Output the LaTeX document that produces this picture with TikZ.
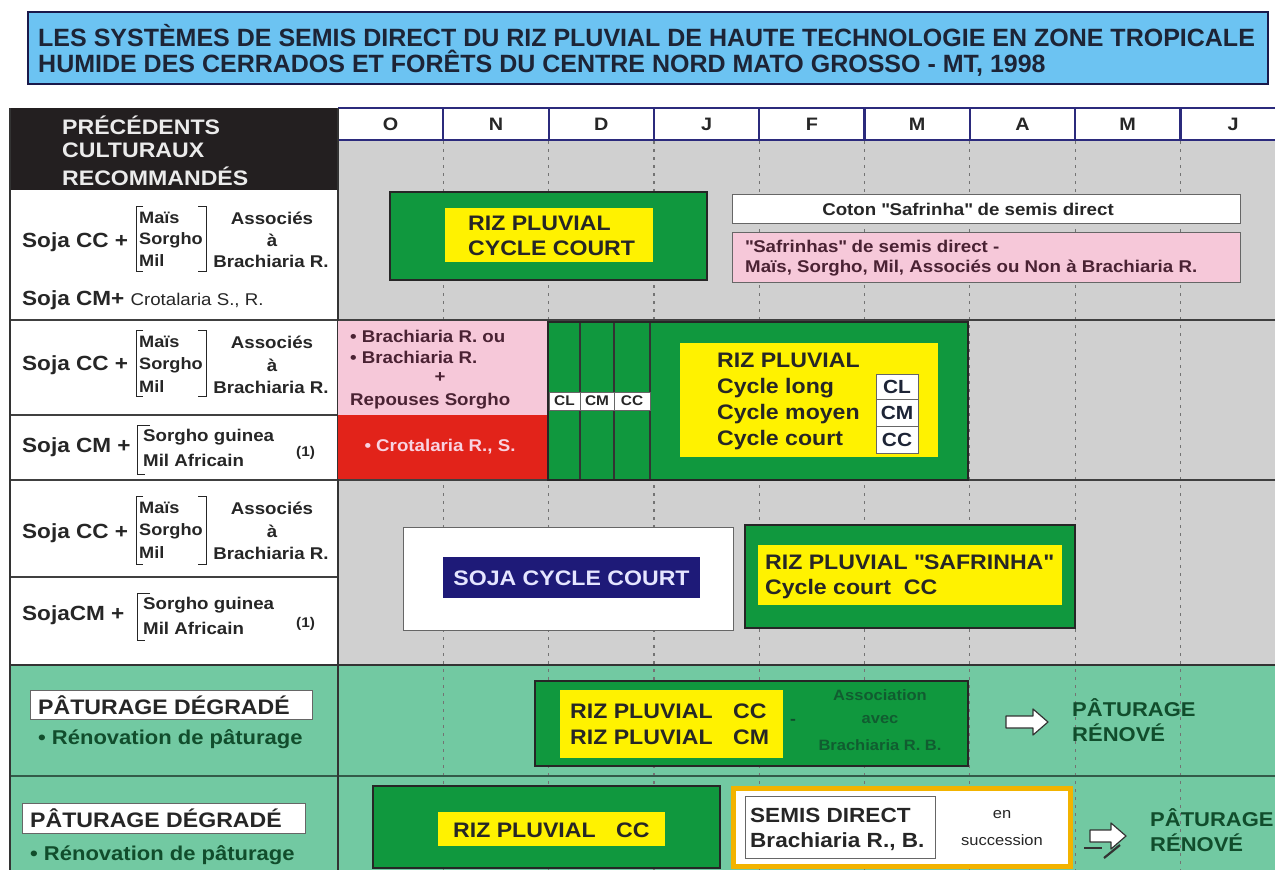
\documentclass[tikz,border=0pt]{standalone}
\usepackage{fontspec}
\setmainfont{Liberation Sans}[FakeStretch=1.1]
\newfontfamily\titlefam{Liberation Sans}
\definecolor{titleblue}{HTML}{6CC3F2}
\definecolor{gridgrey}{HTML}{D0D0D0}
\definecolor{rizgreen}{HTML}{10983E}
\definecolor{rizyellow}{HTML}{FFF200}
\definecolor{softpink}{HTML}{F6C8D9}
\definecolor{hotred}{HTML}{E2231A}
\definecolor{navybox}{HTML}{1E1A78}
\definecolor{mint}{HTML}{72C9A2}
\definecolor{headnavy}{HTML}{2B2A7C}
\definecolor{goldline}{HTML}{F2B300}
\definecolor{darkgreen}{HTML}{114D2C}
\definecolor{ink}{HTML}{262626}
\definecolor{titleink}{HTML}{1D2436}
\definecolor{headblack}{HTML}{231F20}
\definecolor{pinkink}{HTML}{4A2233}
\newcommand\fs[1]{\fontsize{#1}{#1}\selectfont}
\newcommand\blockarrow[3]{%
  \draw[black!80, fill=white, line width=1.2pt, line join=round]
    (#1,#3-6) -- (#2-15,#3-6) -- (#2-15,#3-13) -- (#2,#3) -- (#2-15,#3+13)
    -- (#2-15,#3+6) -- (#1,#3+6) -- cycle;}
\begin{document}
\begin{tikzpicture}[x=1pt,y=-1pt,
  lbl/.style={inner sep=0pt, anchor=west, text=ink, font=\bfseries\fs{18}},
  lblc/.style={lbl, anchor=center},
  thickbox/.style={draw=black!85, line width=2.2pt},
  thinbox/.style={draw=black!60, line width=0.9pt},
  rowline/.style={draw=black!75, line width=1.2pt},
  dotline/.style={draw=black!55, line width=1.2pt, dash pattern=on 3pt off 5pt},
  brk/.style={draw=ink, line width=1pt}
]
\useasboundingbox (0,0) rectangle (1275,870);
\fill[white] (0,0) rectangle (1275,870);

% ---------- title ----------
\draw[fill=titleblue, draw=headnavy!60!black, line width=1.2pt] (28,12) rectangle (1268,84);
\node[lbl, text=titleink, font=\titlefam\bfseries\fs{25}] (title1) at (38,36) {LES SYSTÈMES DE SEMIS DIRECT DU RIZ PLUVIAL DE HAUTE TECHNOLOGIE EN ZONE TROPICALE};
\node[lbl, text=titleink, font=\titlefam\bfseries\fs{25}] (title2) at (38,63) {HUMIDE DES CERRADOS ET FORÊTS DU CENTRE NORD MATO GROSSO - MT, 1998};

% ---------- backgrounds ----------
\fill[gridgrey] (338,140) rectangle (1275,665);
\fill[white] (10,190) rectangle (338,665);
\fill[mint] (10,665) rectangle (1275,870);
\fill[headblack] (10,108) rectangle (338,190);
\fill[white] (338,108) rectangle (1275,140);

% header text
\node[lbl, text=white!92!black, font=\bfseries\fs{21}] (h1) at (62,125) {PRÉCÉDENTS};
\node[lbl, text=white!92!black, font=\bfseries\fs{21}] (h2) at (62,150) {CULTURAUX};
\node[lbl, text=white!92!black, font=\bfseries\fs{21}] (h3) at (62,176) {RECOMMANDÉS};

% months
\foreach \m [count=\i from 0] in {O,N,D,J,F,M,A,M,J}
  \node[lblc, font=\bfseries\fs{18}] (month\i) at ({390.6+105.3*\i},124) {\m};
\draw[headnavy, line width=2.6pt] (338,108) -- (1275,108);
\draw[headnavy, line width=2.2pt] (338,140) -- (1275,140);
\foreach \i in {1,...,8}
  \draw[headnavy, line width=2.2pt] ({338+105.3*\i},108) -- ({338+105.3*\i},140);

% dotted month lines
\foreach \i in {1,...,8}
  \draw[dotline] ({338+105.3*\i},141) -- ({338+105.3*\i},870);

% row lines
\draw[rowline] (10,320) -- (1275,320);
\draw[rowline] (10,480) -- (1275,480);
\draw[rowline] (10,415) -- (338,415);
\draw[rowline] (10,577) -- (338,577);
\draw[draw=black!80, line width=1.6pt] (10,665) -- (1275,665);
\draw[draw=black!55!mint, line width=1.4pt] (10,776) -- (1275,776);
\draw[draw=black!80, line width=1.4pt] (338,108) -- (338,870);
\draw[draw=black!80, line width=1.4pt] (10,108) -- (10,870);

% ---------- left column ----------
% section 1
\node[lbl, font=\bfseries\fs{20.5}] (s1a) at (22,242) {Soja CC +};
\draw[brk] (143,206) -- (136,206) -- (136,271) -- (143,271);
\draw[brk] (198,206) -- (206,206) -- (206,271) -- (198,271);
\node[lbl, font=\bfseries\fs{16.5}] (s1m1) at (139,218) {Maïs};
\node[lbl, font=\bfseries\fs{16.5}] (s1m2) at (139,240) {Sorgho};
\node[lbl, font=\bfseries\fs{16.5}] (s1m3) at (139,261) {Mil};
\node[lblc, font=\bfseries\fs{17}] (s1a1) at (272,218) {Associés};
\node[lblc, font=\bfseries\fs{17}] (s1a2) at (272,240) {à};
\node[lblc, font=\bfseries\fs{17}] (s1a3) at (271,261) {Brachiaria R.};
\node[lbl, font=\bfseries\fs{20.5}] (s1b) at (22,300) {Soja CM+ {\mdseries\fs{17}Crotalaria S., R.}};

% section 2
\node[lbl, font=\bfseries\fs{20.5}] (s2a) at (22,365) {Soja CC +};
\draw[brk] (143,330) -- (136,330) -- (136,396) -- (143,396);
\draw[brk] (198,330) -- (206,330) -- (206,396) -- (198,396);
\node[lbl, font=\bfseries\fs{16.5}] (s2m1) at (139,342) {Maïs};
\node[lbl, font=\bfseries\fs{16.5}] (s2m2) at (139,365) {Sorgho};
\node[lbl, font=\bfseries\fs{16.5}] (s2m3) at (139,387) {Mil};
\node[lblc, font=\bfseries\fs{17}] (s2a1) at (272,342) {Associés};
\node[lblc, font=\bfseries\fs{17}] (s2a2) at (272,365) {à};
\node[lblc, font=\bfseries\fs{17}] (s2a3) at (271,387) {Brachiaria R.};
\node[lbl, font=\bfseries\fs{20.5}] (s2b) at (22,447) {Soja CM +};
\draw[brk] (150,425) -- (137,425) -- (137,474) -- (145,474);
\node[lbl, font=\bfseries\fs{17}] (s2g1) at (143,437) {Sorgho guinea};
\node[lbl, font=\bfseries\fs{17}] (s2g2) at (143,460) {Mil Africain};
\node[lbl, font=\bfseries\fs{14}] (s2n) at (296,453) {(1)};

% section 3
\node[lbl, font=\bfseries\fs{20.5}] (s3a) at (22,533) {Soja CC +};
\draw[brk] (143,496) -- (136,496) -- (136,564) -- (143,564);
\draw[brk] (198,496) -- (206,496) -- (206,564) -- (198,564);
\node[lbl, font=\bfseries\fs{16.5}] (s3m1) at (139,508) {Maïs};
\node[lbl, font=\bfseries\fs{16.5}] (s3m2) at (139,531) {Sorgho};
\node[lbl, font=\bfseries\fs{16.5}] (s3m3) at (139,553) {Mil};
\node[lblc, font=\bfseries\fs{17}] (s3a1) at (272,508) {Associés};
\node[lblc, font=\bfseries\fs{17}] (s3a2) at (272,531) {à};
\node[lblc, font=\bfseries\fs{17}] (s3a3) at (271,553) {Brachiaria R.};
\node[lbl, font=\bfseries\fs{20.5}] (s3b) at (22,615) {SojaCM +};
\draw[brk] (150,593) -- (137,593) -- (137,640) -- (145,640);
\node[lbl, font=\bfseries\fs{17}] (s3g1) at (143,605) {Sorgho guinea};
\node[lbl, font=\bfseries\fs{17}] (s3g2) at (143,628) {Mil Africain};
\node[lbl, font=\bfseries\fs{14}] (s3n) at (296,624) {(1)};

% ---------- section 1 timeline ----------
\draw[thickbox, fill=rizgreen] (390,192) rectangle (707,280);
\fill[rizyellow] (445,208) rectangle (653,262);
\node[lbl, font=\bfseries\fs{21}] (r1a) at (468,223) {RIZ PLUVIAL};
\node[lbl, font=\bfseries\fs{21}] (r1b) at (468,248) {CYCLE COURT};
\draw[thinbox, fill=white] (732,194) rectangle (1240,223);
\node[lblc, font=\bfseries\fs{17}] (coton) at (968,209) {Coton \textquotedbl Safrinha\textquotedbl{} de semis direct};
\draw[thinbox, fill=softpink] (732,232) rectangle (1240,282);
\node[lbl, text=pinkink, font=\bfseries\fs{17}] (saf1) at (745,246) {\textquotedbl Safrinhas\textquotedbl{} de semis direct -};
\node[lbl, text=pinkink, font=\bfseries\fs{17}] (saf2) at (745,268) {Maïs, Sorgho, Mil, Associés ou Non à Brachiaria R.};

% ---------- section 2 timeline ----------
\fill[softpink] (338,321) rectangle (548,415);
\fill[hotred] (338,415) rectangle (548,479);
\node[lbl, text=pinkink, font=\bfseries\fs{17}] (p1) at (350,336) {• Brachiaria R. ou};
\node[lbl, text=pinkink, font=\bfseries\fs{17}] (p2) at (350,357) {• Brachiaria R.};
\node[lblc, text=pinkink, font=\bfseries\fs{17}] (p3) at (440,378) {+};
\node[lbl, text=pinkink, font=\bfseries\fs{17}] (p4) at (350,401) {Repouses Sorgho};
\node[lblc, text=softpink!80!white, font=\bfseries\fs{17}] (crot) at (440,447) {• Crotalaria R., S.};
\draw[thickbox, fill=rizgreen] (548,322) rectangle (968,480);
\foreach \xx in {580,614,650}
  \draw[black!80, line width=1.2pt] (\xx,323) -- (\xx,479);
\draw[thinbox, fill=white] (549,392) rectangle (580,410);
\draw[thinbox, fill=white] (580,392) rectangle (614,410);
\draw[thinbox, fill=white] (614,392) rectangle (650,410);
\node[lblc, font=\bfseries\fs{14}] (cl) at (564.5,401) {CL};
\node[lblc, font=\bfseries\fs{14}] (cm) at (597,401) {CM};
\node[lblc, font=\bfseries\fs{14}] (cc) at (632,401) {CC};
\fill[rizyellow] (680,343) rectangle (938,457);
\node[lbl, font=\bfseries\fs{21}] (r2a) at (717,360) {RIZ PLUVIAL};
\node[lbl, font=\bfseries\fs{21}] (r2b) at (717,388) {Cycle long};
\node[lbl, font=\bfseries\fs{21}] (r2c) at (717,414) {Cycle moyen};
\node[lbl, font=\bfseries\fs{21}] (r2d) at (717,440) {Cycle court};
\draw[thinbox, fill=white] (876,374) rectangle (918,399);
\draw[thinbox, fill=white] (876,399) rectangle (918,426);
\draw[thinbox, fill=white] (876,426) rectangle (918,453);
\node[lblc, text=titleink, font=\bfseries\fs{19}] (kcl) at (897,387) {CL};
\node[lblc, text=titleink, font=\bfseries\fs{19}] (kcm) at (897,413) {CM};
\node[lblc, text=titleink, font=\bfseries\fs{19}] (kcc) at (897,440) {CC};

% ---------- section 3 timeline ----------
\draw[thinbox, fill=white] (403,527) rectangle (733,630);
\fill[navybox] (443,557) rectangle (700,598);
\node[lblc, text=white!90!blue, font=\bfseries\fs{21}] (soja) at (571.5,578) {SOJA CYCLE COURT};
\draw[thickbox, fill=rizgreen] (745,525) rectangle (1075,628);
\fill[rizyellow] (758,545) rectangle (1062,605);
\node[lbl, font=\bfseries\fs{21}] (r3a) at (765,562) {RIZ PLUVIAL \textquotedbl SAFRINHA\textquotedbl};
\node[lbl, font=\bfseries\fs{21}] (r3b) at (765,589) {Cycle court\ \ CC};

% ---------- section 4 ----------
\draw[thinbox, fill=white] (30,690) rectangle (312,719);
\node[lbl, font=\bfseries\fs{21}] (pd1) at (38,705) {PÂTURAGE DÉGRADÉ};
\node[lbl, text=darkgreen, font=\bfseries\fs{20}] (rn1) at (38,739) {• Rénovation de pâturage};
\draw[thickbox, fill=rizgreen] (535,681) rectangle (968,766);
\fill[rizyellow] (560,690) rectangle (783,758);
\node[lbl, font=\bfseries\fs{21}] (r4a) at (570,711) {RIZ PLUVIAL};
\node[lbl, font=\bfseries\fs{21}] (r4b) at (733,711) {CC};
\node[lbl, font=\bfseries\fs{21}] (r4c) at (570,737) {RIZ PLUVIAL};
\node[lbl, font=\bfseries\fs{21}] (r4d) at (733,737) {CM};
\node[lblc, text=darkgreen, font=\bfseries\fs{16}] (dash4) at (793,722) {-};
\node[lblc, text=darkgreen!80!rizgreen, font=\bfseries\fs{15}] (as1) at (880,695) {Association};
\node[lblc, text=darkgreen!80!rizgreen, font=\bfseries\fs{15}] (as2) at (880,720) {avec};
\node[lblc, text=darkgreen!80!rizgreen, font=\bfseries\fs{15}] (as3) at (880,745) {Brachiaria R. B.};
\blockarrow{1006}{1048}{722}
\node[lbl, text=darkgreen, font=\bfseries\fs{20}] (pr1a) at (1072,708) {PÂTURAGE};
\node[lbl, text=darkgreen, font=\bfseries\fs{20}] (pr1b) at (1072,733) {RÉNOVÉ};

% ---------- section 5 ----------
\draw[thinbox, fill=white] (22,803) rectangle (305,833);
\node[lbl, font=\bfseries\fs{21}] (pd2) at (30,818) {PÂTURAGE DÉGRADÉ};
\node[lbl, text=darkgreen, font=\bfseries\fs{20}] (rn2) at (30,855) {• Rénovation de pâturage};
\draw[thickbox, fill=rizgreen] (373,786) rectangle (720,868);
\fill[rizyellow] (438,812) rectangle (665,846);
\node[lbl, font=\bfseries\fs{21}] (r5a) at (453,830) {RIZ PLUVIAL};
\node[lbl, font=\bfseries\fs{21}] (r5b) at (616,830) {CC};
\draw[goldline, line width=5pt, fill=white] (733,788) rectangle (1070,866);
\draw[thinbox, fill=white] (745,796) rectangle (935,858);
\node[lbl, font=\bfseries\fs{20.5}] (sd1) at (750,815) {SEMIS DIRECT};
\node[lbl, font=\bfseries\fs{20.5}] (sd2) at (750,842) {Brachiaria R., B.};
\node[lblc, font=\fs{15}] (en) at (1002,815) {en};
\node[lblc, font=\fs{15}] (succ) at (1002,840) {succession};
\blockarrow{1090}{1126}{836}
\draw[black!80, line width=2.2pt] (1084,848) -- (1102,848);
\draw[black!80, line width=2.2pt] (1104,858) -- (1120,845);
\node[lbl, text=darkgreen, font=\bfseries\fs{20}] (pr2a) at (1150,818) {PÂTURAGE};
\node[lbl, text=darkgreen, font=\bfseries\fs{20}] (pr2b) at (1150,843) {RÉNOVÉ};
\end{tikzpicture}
\end{document}
